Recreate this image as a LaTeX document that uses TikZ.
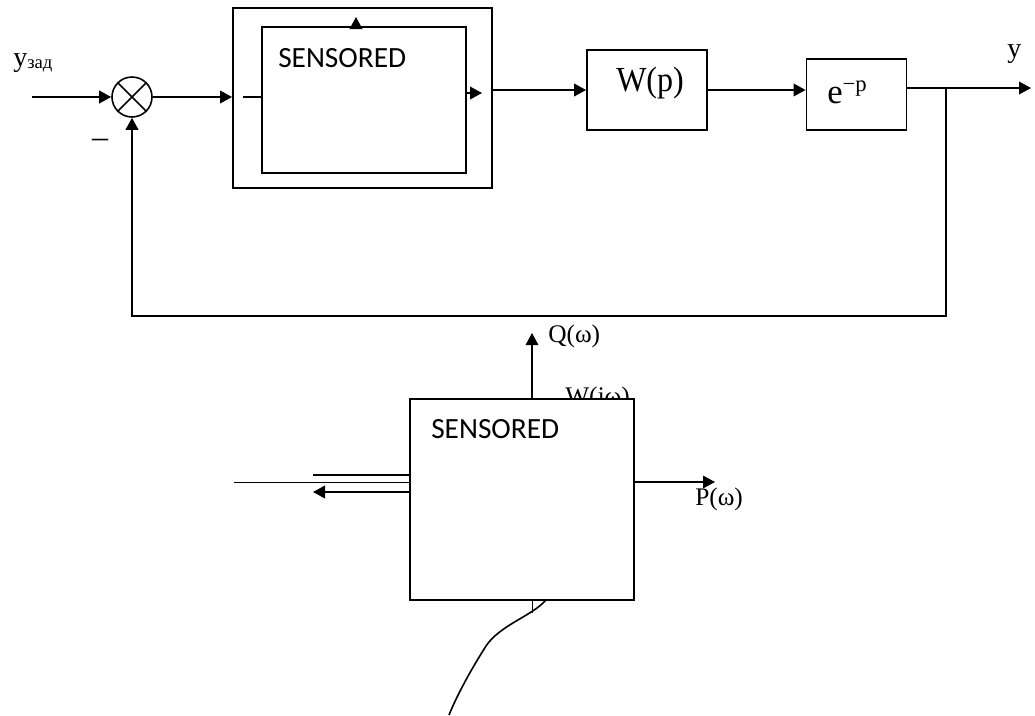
\documentclass[tikz,border=0pt]{standalone}
\usepackage{fontspec}
\setmainfont{Liberation Serif}
\newfontfamily\calib{Carlito}
\usetikzlibrary{arrows.meta}
\begin{document}
\begin{tikzpicture}[x=0.75pt,y=-0.75pt,
  box/.style={draw, line width=1.4pt, inner sep=0pt, fill=white},
  ln/.style={line width=1.2pt},
  thinln/.style={line width=0.8pt},
  arr/.style={-{Triangle[length=9pt,width=9.5pt]}},
  txt/.style={inner sep=0pt, anchor=base west},
  lbl/.style={txt, font=\fontsize{19}{19}\selectfont},
  sens/.style={txt, font=\calib\fontsize{22}{22}\selectfont}]
\useasboundingbox (0,0) rectangle (1035,715);
% ---------- top loop ----------
\node[circle, draw, line width=1.2pt, minimum size=30pt, inner sep=0pt] (sum) at (132,97) {};
\draw[ln] (sum.45) -- (sum.225) (sum.135) -- (sum.315);
\node[box, minimum width=194.25pt, minimum height=135pt] (outer) at (362.5,98) {};
\node[box, line width=1.1pt, minimum width=153pt, minimum height=109.5pt] (inner) at (364,100) {};
\node[sens] (s1) at (278,67) {SENSORED};
\node[box, minimum width=90pt, minimum height=60pt] (W) at (647,90) {};
\node[txt, font=\fontsize{24}{24}\selectfont, yscale=1.1] (Wt) at (616,91) {W(p)};
\node[box, minimum width=75pt, minimum height=53.25pt] (E) at (856.5,94.5) {};
\node[txt, font=\fontsize{26}{26}\selectfont] (Et) at (827,103) {e\raisebox{9pt}{\fontsize{17}{17}\selectfont −p}};
\node[txt, font=\fontsize{21}{21}\selectfont] (yin) at (13,66) {у\raisebox{-2pt}{\fontsize{14}{14}\selectfont зад}};
\node[txt, font=\fontsize{21}{21}\selectfont] (yout) at (1007,57) {y};
\node[inner sep=0pt, font=\fontsize{24}{24}\selectfont] (minus) at (100,143) {–};
\coordinate (in) at (32,97);
\coordinate (stub) at (243,97);
\coordinate (top) at (356,17);
\coordinate (rtip) at (482,93);
\coordinate (br) at (946,88);
\coordinate (out) at (1031,88);
\coordinate (fb) at (946,316);
\draw[ln, arr] (in) -- (sum.west);
\draw[ln, arr] (sum.east) -- (sum.east -| outer.west);
\draw[ln] (stub) -- (stub -| inner.west);
\draw[ln, arr] (top |- inner.north) -- (top);
\draw[ln, arr] (rtip -| inner.east) -- (rtip);
\draw[ln, arr] (outer.east |- W.west) -- (W.west);
\draw[ln, arr] (W.east) -- (W.east -| E.west);
\draw[ln, arr] (E.east |- br) -- (out);
\draw[ln, arr] (br) -- (fb) -| (sum.south);
% ---------- bottom block ----------
\node[lbl] (Wj) at (565,404) {W(jω)};
\node[box, minimum width=168pt, minimum height=150.75pt] (B) at (522,499.5) {};
\node[sens] (s2) at (431,438) {SENSORED};
\node[lbl] (Q) at (548,342) {Q(ω)};
\node[lbl] (P) at (695,505) {P(ω)};
\coordinate (q) at (532,333);
\coordinate (l1) at (234,482);
\coordinate (l2) at (313,475);
\coordinate (l3) at (313,492);
\coordinate (p) at (715,482);
\coordinate (t) at (532,613);
\coordinate (c0) at (546,600);
\coordinate (c1) at (449,715);
\draw[thinln, arr] (q |- B.north) -- (q);
\draw[line width=0.7pt] (l1) -- (l1 -| B.west);
\draw[ln] (l2 -| B.west) -- (l2);
\draw[ln, arr] (l3 -| B.west) -- (l3);
\draw[thinln, arr] (p -| B.east) -- (p);
\draw[line width=0.7pt] (t |- B.south) -- (t);
\draw[ln] (c0) .. controls (532,616) and (500,625) .. (486,646) .. controls (472,668) and (458,693) .. (c1);
\end{tikzpicture}
\end{document}
